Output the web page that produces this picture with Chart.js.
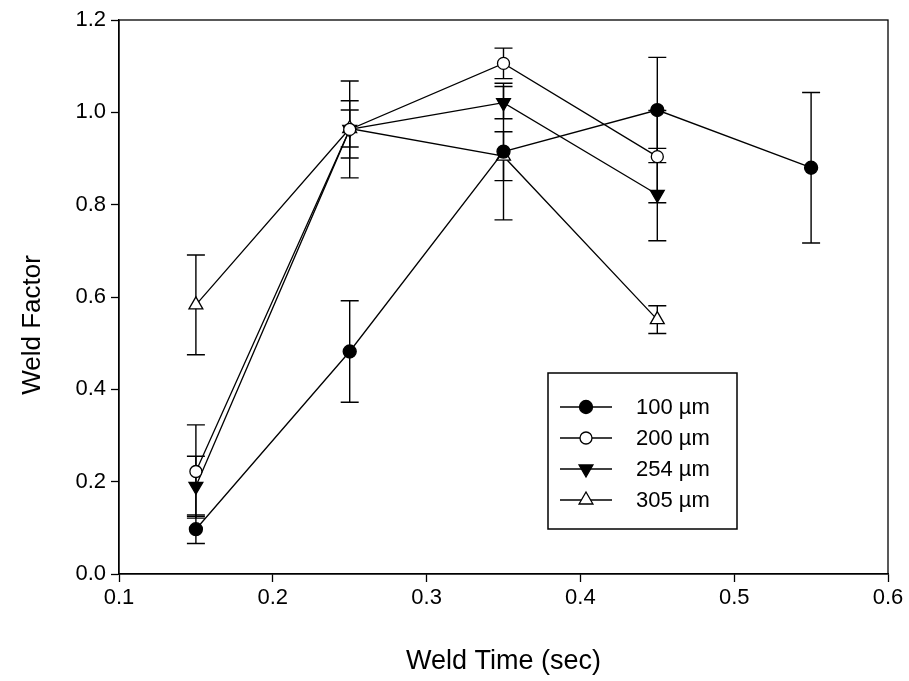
<!DOCTYPE html>
<html>
<head>
<meta charset="utf-8">
<script src="https://cdn.jsdelivr.net/npm/chart.js@4.4.0/dist/chart.umd.min.js"></script>
<style>
  html, body { margin: 0; padding: 0; background: #fff; }
  #wrap { width: 909px; height: 681px; }
</style>
</head>
<body>
<div id="wrap"><canvas id="grafico" width="909" height="681"></canvas></div>
<script>
// weld time (sec)
const tiempo100 = [0.15, 0.25, 0.35, 0.45, 0.55];
const tiempo = [0.15, 0.25, 0.35, 0.45];

// weld factor and error (+/-) per thickness
const factor100 = [0.097, 0.482, 0.915, 1.005, 0.880];
const error100 = [0.031, 0.110, 0.148, 0.114, 0.163];
const factor200 = [0.222, 0.963, 1.106, 0.904];
const error200 = [0.101, 0.105, 0.033, 0.100];
const factor254 = [0.190, 0.963, 1.021, 0.822];
const error254 = [0.065, 0.062, 0.035, 0.100];
const factor305 = [0.583, 0.965, 0.905, 0.551];
const error305 = [0.108, 0.040, 0.053, 0.030];

const etiquetas = ['100 µm', '200 µm', '254 µm', '305 µm'];
const ticksX = [0.1, 0.2, 0.3, 0.4, 0.5, 0.6];
const ticksY = [0.0, 0.2, 0.4, 0.6, 0.8, 1.0, 1.2];
const tituloY = 'Weld Factor';
const tituloX = 'Weld Time (sec)';

const fuente = '"Liberation Sans", Arial, sans-serif';

function puntos(xs, ys) {
    return xs.map((x, i) => ({ x: x, y: ys[i] }));
}

function serie(label, xs, ys, errs, estilo, relleno, radio, rot) {
    return {
        label: label,
        data: puntos(xs, ys),
        errores: errs,
        borderColor: '#000',
        borderWidth: 1.3,
        pointStyle: estilo,
        pointRadius: radio,
        pointHoverRadius: radio,
        pointRotation: rot,
        pointBackgroundColor: relleno,
        pointBorderColor: '#000',
        pointBorderWidth: 1.3,
        showLine: true,
        tension: 0
    };
}

const datasets = [
    serie(etiquetas[0], tiempo100, factor100, error100, 'circle', '#000', 6.5, 0),
    serie(etiquetas[1], tiempo, factor200, error200, 'circle', '#fff', 6, 0),
    serie(etiquetas[2], tiempo, factor254, error254, 'triangle', '#000', 8, 180),
    serie(etiquetas[3], tiempo, factor305, error305, 'triangle', '#fff', 8, 0)
];

// error bars, drawn through the scales
const barrasError = {
    id: 'barrasError',
    beforeDatasetsDraw(chart) {
        const ctx = chart.ctx;
        const sx = chart.scales.x, sy = chart.scales.y;
        ctx.save();
        ctx.strokeStyle = '#000';
        ctx.lineWidth = 1.4;
        chart.data.datasets.forEach(ds => {
            ds.data.forEach((p, i) => {
                const e = ds.errores[i];
                const x = sx.getPixelForValue(p.x);
                const y1 = sy.getPixelForValue(p.y + e);
                const y2 = sy.getPixelForValue(p.y - e);
                ctx.beginPath();
                ctx.moveTo(x, y1); ctx.lineTo(x, y2);
                ctx.moveTo(x - 9, y1); ctx.lineTo(x + 9, y1);
                ctx.moveTo(x - 9, y2); ctx.lineTo(x + 9, y2);
                ctx.stroke();
            });
        });
        ctx.restore();
    }
};

// frame, y title and legend box
const marco = {
    id: 'marco',
    afterDraw(chart) {
        const ctx = chart.ctx;
        const a = chart.chartArea;
        ctx.save();
        ctx.strokeStyle = '#000';
        ctx.lineWidth = 1.3;
        ctx.strokeRect(a.left, a.top, a.right - a.left, a.bottom - a.top);

        // y title, a bit below the middle like the original
        ctx.save();
        ctx.translate(33, 325);
        ctx.rotate(-Math.PI / 2);
        ctx.font = '26px ' + fuente;
        ctx.textAlign = 'center';
        ctx.textBaseline = 'middle';
        ctx.fillStyle = '#000';
        ctx.fillText(tituloY, 0, 0);
        ctx.restore();

        // legend
        const bx = a.left + 429, by = a.top + 353, bw = 189, bh = 156;
        ctx.lineWidth = 1.5;
        ctx.strokeRect(bx, by, bw, bh);
        ctx.font = '22px ' + fuente;
        ctx.textBaseline = 'middle';
        chart.data.datasets.forEach((ds, i) => {
            const y = by + 34 + i * 31;
            ctx.lineWidth = 1.3;
            ctx.strokeStyle = '#000';
            ctx.beginPath();
            ctx.moveTo(bx + 12, y); ctx.lineTo(bx + 64, y);
            ctx.stroke();
            ctx.fillStyle = ds.pointBackgroundColor;
            Chart.helpers.drawPoint(ctx, {
                pointStyle: ds.pointStyle,
                radius: ds.pointRadius,
                rotation: ds.pointRotation,
                borderWidth: 1.3
            }, bx + 38, y);
            ctx.fillStyle = '#000';
            ctx.fillText(ds.label, bx + 88, y + 1);
        });
        ctx.restore();
    }
};

const ctx = document.getElementById('grafico');
const myChart = new Chart(ctx, {
    type: 'scatter',
    data: { datasets: datasets },
    options: {
        responsive: false,
        animation: false,
        events: [],
        layout: { padding: { top: 20, right: 21, left: 0, bottom: 0 } },
        plugins: {
            legend: { display: false },
            tooltip: { enabled: false }
        },
        scales: {
            x: {
                type: 'linear',
                min: 0.1,
                max: 0.6,
                afterBuildTicks: s => { s.ticks = ticksX.map(v => ({ value: v })); },
                afterFit: s => { s.height = 107; },
                grid: { drawOnChartArea: false, drawTicks: true, tickLength: 8, tickColor: '#000', tickWidth: 1.3 },
                border: { color: '#000', width: 1.3 },
                ticks: {
                    color: '#000',
                    font: { family: fuente, size: 22 },
                    padding: 3,
                    callback: v => v.toFixed(1)
                },
                title: {
                    display: true,
                    text: tituloX,
                    color: '#000',
                    font: { family: fuente, size: 27 },
                    padding: { top: 18, bottom: 3 }
                }
            },
            y: {
                min: 0,
                max: 1.2,
                afterBuildTicks: s => { s.ticks = ticksY.map(v => ({ value: v })); },
                afterFit: s => { s.width = 119; },
                grid: { drawOnChartArea: false, drawTicks: true, tickLength: 8, tickColor: '#000', tickWidth: 1.3 },
                border: { color: '#000', width: 1.3 },
                ticks: {
                    color: '#000',
                    font: { family: fuente, size: 22 },
                    padding: 5,
                    callback: v => v.toFixed(1)
                },
                title: { display: false }
            }
        }
    },
    plugins: [barrasError, marco]
});
</script>
</body>
</html>
